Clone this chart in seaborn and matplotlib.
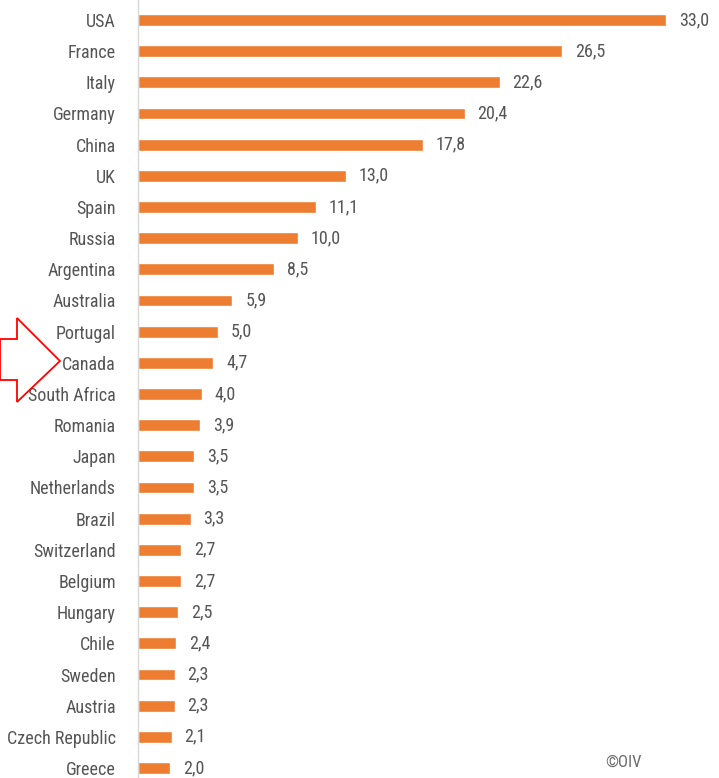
import matplotlib
matplotlib.use('Agg')
import matplotlib.pyplot as plt
import matplotlib.patches as mpatches
from matplotlib import font_manager
import seaborn as sns
import pandas as pd

countries = ['USA', 'France', 'Italy', 'Germany', 'China', 'UK', 'Spain', 'Russia',
             'Argentina', 'Australia', 'Portugal', 'Canada', 'South Africa', 'Romania',
             'Japan', 'Netherlands', 'Brazil', 'Switzerland', 'Belgium', 'Hungary',
             'Chile', 'Sweden', 'Austria', 'Czech Republic', 'Greece']
consumption = [33.0, 26.5, 22.6, 20.4, 17.8, 13.0, 11.1, 10.0, 8.5, 5.9, 5.0, 4.7, 4.0,
               3.9, 3.5, 3.5, 3.3, 2.7, 2.7, 2.5, 2.4, 2.3, 2.3, 2.1, 2.0]

bar_color = '#ED7D31'
text_color = '#555555'

sns.set_style('white')
# look for a condensed face among the installed fonts
names = {f.name for f in font_manager.fontManager.ttflist}
narrow = [n for n in ['Liberation Sans Narrow', 'Roboto Condensed', 'Open Sans Condensed',
                      'DejaVu Sans Condensed'] if n in names]
plt.rcParams['font.family'] = narrow[:1] + ['DejaVu Sans']
plt.rcParams['font.stretch'] = 'condensed'
size = 13 if narrow else 11

df = pd.DataFrame({'country': countries, 'value': consumption})

W, H = 719, 778
fig = plt.figure(figsize=(W / 100, H / 100), dpi=100)
ax = fig.add_axes([138 / W, 0, 1 - 138 / W, 1])

sns.barplot(data=df, x='value', y='country', orient='h', color=bar_color,
            saturation=1, width=0.38, ax=ax)

ax.set_xlim(0, 36.3)
ax.set_ylim(24.32, -0.64)
ax.set_xlabel('')
ax.set_ylabel('')
ax.set_xticks([])
for s in ['top', 'right', 'bottom']:
    ax.spines[s].set_visible(False)
ax.spines['left'].set_color('#d9d9d9')
ax.spines['left'].set_linewidth(1)
ax.tick_params(axis='y', length=0, pad=16, labelsize=size, labelcolor=text_color)

for i, v in enumerate(consumption):
    ax.text(v + 0.8, i, f'{v:.1f}'.replace('.', ','), va='center', ha='left',
            fontsize=size, color=text_color)

# red outline arrow pointing at Canada
pts = [(0, 339), (17, 339), (17, 318), (60, 361), (17, 402), (17, 380), (0, 380)]
pts = [(x / W, 1 - y / H) for x, y in pts]
fig.patches.append(mpatches.Polygon(pts, closed=True, fill=False, edgecolor='#ff0000',
                                    linewidth=1.3, transform=fig.transFigure))

fig.text(623 / W, 1 - 762 / H, '©OIV', ha='center', va='center', fontsize=size - 1,
         color='#6b6b6b')

fig.savefig('out.png', dpi=100)
